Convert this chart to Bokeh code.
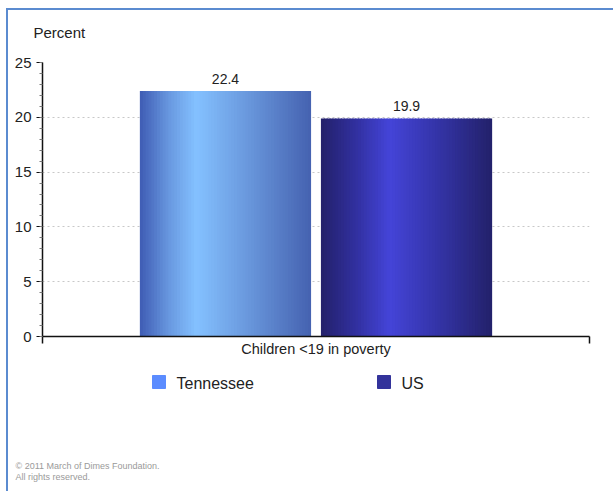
from bokeh.plotting import figure
from bokeh.layouts import column
from bokeh.models import Range1d, FixedTicker, ColumnDataSource
from bokeh.core.properties import value
from bokeh.embed import file_html
from bokeh.resources import INLINE

# ---- data ----
category = "Children <19 in poverty"
series = ["Tennessee", "US"]
values = [22.4, 19.9]
value_labels = ["22.4", "19.9"]
y_ticks = [0, 5, 10, 15, 20, 25]
y_label = "Percent"
footer = ["\u00a9 2011 March of Dimes Foundation.", "All rights reserved."]

# ---- styles ----
FONT = "Liberation Sans"
TXT = "#222222"
legend_colors = ["#5b8cff", "#33339b"]
gradients = [
    [(0.0, "#3f5cb4"), (0.18, "#6a9be2"), (0.33, "#84c1ff"), (0.6, "#6c9ce0"), (1.0, "#4562b0")],
    [(0.0, "#23206a"), (0.2, "#31309e"), (0.4, "#4444d8"), (0.7, "#3333a4"), (1.0, "#23216a")],
]
bar_width = 0.313
bar_gap = 0.018
n_strips = 60
BORDER = "#5b8bd0"


def hex2rgb(h):
    h = h.lstrip("#")
    return tuple(int(h[i:i + 2], 16) for i in (0, 2, 4))


def interp(stops, t):
    for (t0, c0), (t1, c1) in zip(stops[:-1], stops[1:]):
        if t0 <= t <= t1:
            f = (t - t0) / (t1 - t0) if t1 > t0 else 0
            a, b = hex2rgb(c0), hex2rgb(c1)
            return "#%02x%02x%02x" % tuple(round(a[i] + (b[i] - a[i]) * f) for i in range(3))
    return stops[-1][1]


def blank(height, y0):
    """A figure whose frame is its whole canvas, in page-pixel coordinates."""
    f = figure(width=605, height=height, output_backend="svg", toolbar_location=None,
               x_range=Range1d(8, 613), y_range=Range1d(y0 + height, y0),
               x_axis_type=None, y_axis_type=None, min_border=0,
               frame_align=False)
    f.outline_line_color = None
    f.grid.visible = False
    return f


# ---- header (y-axis caption) ----
p_top = blank(40, 10)
p_top.text(x=[33], y=[32], text=[y_label], text_font=value(FONT),
           text_font_size="15px", text_color=TXT, text_baseline="middle")

# ---- main chart ----
p = figure(frame_width=547, frame_height=274, output_backend="svg",
           toolbar_location=None, x_range=Range1d(0, 1), y_range=Range1d(0, 25),
           min_border_left=34, min_border_right=24, min_border_top=12,
           min_border_bottom=30, frame_align=False)
p.outline_line_color = None

p.xgrid.visible = False
p.ygrid.ticker = FixedTicker(ticks=y_ticks[1:-1])
p.ygrid.grid_line_color = "#c8c8c8"
p.ygrid.grid_line_dash = "2 3"

ya = p.yaxis[0]
ya.ticker = FixedTicker(ticks=y_ticks, minor_ticks=list(range(0, 26)))
ya.axis_line_color = "#111111"
ya.axis_line_width = 1.5
ya.major_tick_line_color = "#111111"
ya.major_tick_out = 6
ya.major_tick_in = 0
ya.minor_tick_line_color = "#777777"
ya.minor_tick_out = 3
ya.minor_tick_in = 0
ya.major_label_text_font = FONT
ya.major_label_text_font_size = "15px"
ya.major_label_text_color = TXT
ya.major_label_standoff = 5

xa = p.xaxis[0]
xa.ticker = FixedTicker(ticks=[0.5], minor_ticks=[0, 1])
xa.major_label_overrides = {0.5: category}
xa.axis_line_color = "#111111"
xa.axis_line_width = 1.5
xa.major_tick_out = 0
xa.major_tick_in = 0
xa.minor_tick_line_color = "#111111"
xa.minor_tick_line_width = 1.5
xa.minor_tick_out = 7
xa.minor_tick_in = 0
xa.major_label_text_font = FONT
xa.major_label_text_font_size = "14.5px"
xa.major_label_text_color = TXT
xa.major_label_standoff = -3

n = len(series)
group_w = n * bar_width + (n - 1) * bar_gap
centers = [0.5 - group_w / 2 + bar_width / 2 + i * (bar_width + bar_gap) for i in range(n)]
for i, (c, v) in enumerate(zip(centers, values)):
    left0 = c - bar_width / 2
    sw = bar_width / n_strips
    lefts = [left0 + k * sw for k in range(n_strips)]
    rights = [min(l + sw * 1.4, left0 + bar_width) for l in lefts]
    cols = [interp(gradients[i], (k + 0.5) / n_strips) for k in range(n_strips)]
    src = ColumnDataSource(dict(left=lefts, right=rights, top=[v] * n_strips,
                                bottom=[0] * n_strips, color=cols))
    p.quad(left="left", right="right", top="top", bottom="bottom", source=src,
           fill_color="color", line_color=None)

p.text(x=centers, y=values, text=value_labels, text_align="center",
       text_baseline="bottom", y_offset=-7, text_font=value(FONT),
       text_font_size="14px", text_color=TXT)

# ---- legend + footer ----
p_bot = blank(125, 366)
leg_x = [158.5, 383.5]
p_bot.scatter(x=leg_x, y=[381.5] * n, marker="square", size=13,
              fill_color=legend_colors, line_color=legend_colors)
p_bot.text(x=[x + 17.5 for x in leg_x], y=[382.5] * n, text=series,
           text_font=value(FONT), text_font_size="16px", text_color=TXT,
           text_baseline="middle")
p_bot.text(x=[15, 15], y=[465, 476.5], text=footer, text_font=value(FONT),
           text_font_size="9px", text_color="#9a9a9a", text_baseline="middle")

root = column(p_top, p, p_bot, spacing=0)
root.styles = {"margin-left": "6px", "margin-top": "8px",
               "border-left": "2px solid " + BORDER, "border-top": "2px solid " + BORDER}

open("out.html", "w").write(file_html(root, INLINE))
